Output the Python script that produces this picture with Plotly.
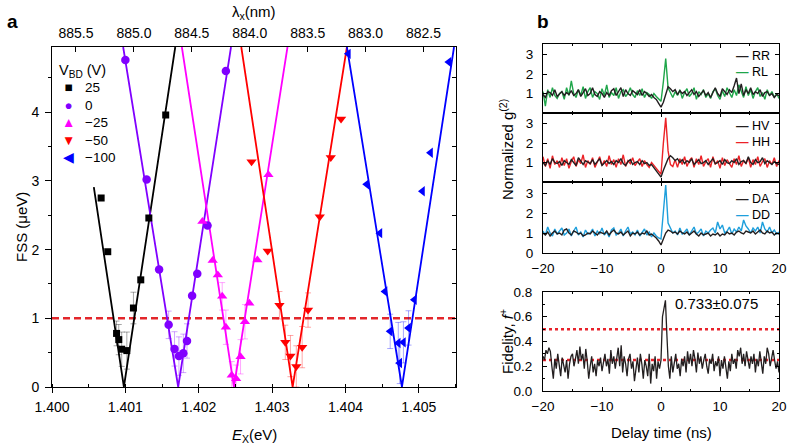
import numpy as np
import plotly.graph_objects as go

W, H = 788, 447
FONT = "Liberation Sans, Arial, Helvetica, sans-serif"

# ---------------- Panel a data ----------------
E_range = [1.400, 1.4055]
FSS_range = [0.0, 4.95]
E_ticks = [1.400, 1.401, 1.402, 1.403, 1.404, 1.405]
FSS_ticks = [0, 1, 2, 3, 4]
lam_ticks = [885.5, 885.0, 884.5, 884.0, 883.5, 883.0, 882.5]
lam_range = [885.707, 882.224]
FSS_threshold = 1.0

V_labels = ["25", "0", "−25", "−50", "−100"]
V_glyphs = ["■", "●", "▲", "▼", "◀"]

E_25 = [1.40067, 1.40076, 1.40088, 1.40091, 1.40095, 1.40102, 1.40111, 1.40121, 1.40132, 1.40155]
F_25 = [2.75, 1.97, 0.78, 0.69, 0.55, 0.53, 1.15, 1.56, 2.46, 3.96]
err_25 = [0, 0, 0.18, 0.22, 0.25, 0.27, 0.23, 0, 0, 0]
Efit_25 = [1.40057, 1.40098, 1.40168]
Ffit_25 = [2.91, 0.0, 4.95]

E_0 = [1.40100, 1.40129, 1.40146, 1.40159, 1.40167, 1.40173, 1.40179, 1.40184, 1.40191, 1.40198, 1.40212, 1.40237]
F_0 = [4.76, 3.02, 1.71, 0.905, 0.555, 0.45, 0.49, 0.67, 1.33, 1.65, 2.35, 4.60]
err_0 = [0, 0, 0, 0.2, 0.25, 0.28, 0.28, 0.25, 0, 0, 0, 0]
Efit_0 = [1.40097, 1.40172, 1.40244]
Ffit_0 = [4.95, 0.0, 4.95]

E_m25 = [1.40205, 1.40219, 1.40226, 1.40232, 1.40237, 1.40245, 1.40251, 1.40257, 1.40263, 1.40269, 1.40280, 1.40295]
F_m25 = [2.41, 1.84, 1.63, 1.32, 0.87, 0.17, 0.12, 0.44, 0.95, 1.22, 1.85, 3.09]
err_m25 = [0, 0, 0, 0.2, 0.25, 0.2, 0.2, 0.25, 0.25, 0, 0, 0]
Efit_m25 = [1.40177, 1.40248, 1.40321]
Ffit_m25 = [4.95, 0.0, 4.95]

E_m50 = [1.40272, 1.40294, 1.40310, 1.40318, 1.40325, 1.40333, 1.40341, 1.40349, 1.40365, 1.40380, 1.40394]
F_m50 = [3.28, 1.98, 1.19, 0.65, 0.45, 0.30, 0.58, 1.12, 2.48, 3.34, 3.90]
err_m50 = [0, 0, 0.2, 0.25, 0.3, 0.3, 0.3, 0.25, 0, 0, 0]
Efit_m50 = [1.40258, 1.40328, 1.40402]
Ffit_m50 = [4.95, 0.0, 4.95]

E_m100 = [1.40404, 1.40429, 1.40447, 1.40454, 1.40461, 1.40472, 1.40474, 1.40479, 1.40486, 1.40494, 1.40505, 1.40516, 1.40541]
F_m100 = [4.85, 2.95, 2.24, 1.39, 0.81, 0.64, 0.35, 0.65, 0.86, 1.27, 2.85, 3.41, 4.73]
err_m100 = [0, 0, 0, 0, 0.25, 0.3, 0.3, 0.3, 0.25, 0, 0, 0, 0]
Efit_m100 = [1.40402, 1.40477, 1.40548]
Ffit_m100 = [4.95, 0.0, 4.95]

# ---------------- Panel b data ----------------
t_range = [-20, 20]
t_ticks = [-20, -10, 0, 10, 20]
t_g2 = np.round(np.arange(-20, 20.0001, 0.4), 2)      # 101 delay bins
t_fid = np.round(np.arange(-20, 20.0001, 0.25), 2)    # 161 delay bins

g2_RR = [0.95,0.8,1.1,1.05,0.9,1.2,0.85,1.0,1.1,0.9,
         1.05,0.95,1.15,0.9,1.0,1.2,0.85,1.05,1.25,0.9,
         1.0,1.3,0.95,0.85,1.1,1.0,0.8,1.05,0.9,1.15,
         1.25,0.9,1.1,1.3,0.85,1.2,1.0,0.9,1.15,1.05,
         0.95,1.2,0.9,1.1,1.0,0.85,0.95,0.8,0.7,0.5,
         0.3,
         0.55,1.0,1.35,1.25,1.1,1.2,0.95,1.15,1.0,1.1,
         0.9,1.05,1.2,0.95,1.1,0.85,1.0,1.15,0.9,1.05,
         0.8,1.1,1.3,1.0,0.85,1.25,1.1,0.95,1.2,1.05,
         1.4,1.8,1.0,1.5,0.9,1.2,1.0,1.3,0.95,1.1,
         1.0,1.2,0.85,1.05,1.1,0.9,1.0,0.8,0.95,0.9]
g2_RL = [1.1,0.35,1.2,0.8,1.3,0.9,0.75,1.0,1.1,0.7,
         1.3,0.9,1.65,1.0,0.8,1.2,0.9,1.35,0.75,1.1,
         1.3,0.8,1.1,1.0,0.7,1.25,0.9,1.45,0.8,1.05,
         0.9,1.3,0.75,1.1,1.2,0.85,1.0,1.3,0.95,0.8,
         1.15,0.9,1.25,0.8,1.05,0.95,0.75,1.0,0.85,0.7,
         0.6,
         1.6,2.8,1.3,1.0,0.8,1.1,0.9,1.2,0.75,1.05,
         1.25,0.85,1.0,1.3,0.7,1.1,0.95,1.2,0.8,1.0,
         0.75,1.1,1.25,0.9,0.7,1.15,0.85,1.3,1.0,0.8,
         1.2,0.9,1.45,1.1,0.8,1.35,0.9,1.2,0.75,1.1,
         1.3,0.85,1.05,0.7,1.2,0.9,1.1,0.8,1.0,0.75]
g2_HV = [1.0,0.85,1.1,0.9,1.2,1.0,0.95,1.05,0.85,1.1,
         1.0,0.9,1.15,1.0,0.85,1.25,1.05,0.9,1.1,1.0,
         0.95,1.15,0.9,1.05,1.2,0.85,1.0,1.1,0.95,1.05,
         0.9,1.1,1.0,1.2,0.95,0.85,1.05,1.15,0.9,1.0,
         1.05,0.9,1.1,0.95,1.0,0.85,0.9,0.75,0.6,0.45,
         0.25,
         0.6,0.95,1.2,1.35,1.25,1.1,1.2,1.0,1.15,0.95,
         1.1,1.0,1.2,0.9,1.05,1.15,0.95,1.0,1.1,0.9,
         1.05,1.2,0.95,1.0,1.1,0.9,1.15,1.0,0.95,1.1,
         1.0,1.2,0.9,1.05,1.1,0.95,1.3,1.0,0.9,1.15,
         1.0,1.05,1.25,0.95,1.1,1.0,0.9,1.05,0.95,0.9]
g2_HH = [1.3,0.8,1.2,0.7,1.35,0.9,1.1,0.75,1.25,0.85,
         1.2,0.7,1.05,1.3,0.8,1.15,0.95,1.4,0.75,1.1,
         0.9,1.25,0.75,1.05,1.3,0.85,1.1,0.8,1.35,0.9,
         1.15,0.75,1.2,0.9,1.4,0.8,1.1,0.95,1.25,0.85,
         1.0,1.2,0.8,1.1,0.9,0.75,1.0,0.85,0.7,0.55,
         0.4,
         2.0,3.3,1.6,0.9,0.8,1.15,0.75,1.2,0.9,1.3,
         0.8,1.1,1.25,0.75,1.2,0.9,1.35,0.8,1.05,1.2,
         0.75,1.3,0.9,1.1,0.7,1.25,0.85,1.15,0.95,0.75,
         1.2,0.9,1.35,0.8,1.1,0.95,1.25,0.75,1.15,0.9,
         1.3,0.8,1.05,1.2,0.75,1.1,0.9,1.25,0.8,1.1]
g2_DA = [1.0,0.9,1.05,0.85,1.0,1.1,0.95,1.0,0.9,1.15,
         1.2,1.0,0.9,1.1,1.05,0.95,1.0,0.85,0.9,1.0,
         0.95,1.1,1.0,0.9,1.05,1.0,0.95,1.1,0.9,1.05,
         1.15,1.0,0.95,1.05,0.9,1.0,1.1,0.85,1.0,0.95,
         1.05,0.9,1.0,0.95,1.1,0.9,0.95,0.85,0.75,0.6,
         0.4,
         0.7,1.0,1.15,1.1,1.0,1.05,0.95,1.1,1.0,0.95,
         1.05,0.9,1.0,1.1,0.95,0.85,1.0,0.9,0.95,1.0,
         0.85,0.95,0.9,1.0,0.85,0.95,0.9,1.05,0.95,1.0,
         0.9,1.05,1.1,1.0,0.95,1.1,1.05,1.0,1.1,0.95,
         1.05,1.15,1.0,0.95,1.1,1.0,1.05,0.9,1.0,0.95]
g2_DD = [1.1,0.9,1.3,1.0,0.85,1.2,0.95,1.1,1.25,0.9,
         1.0,1.2,0.85,1.1,1.3,0.9,1.05,0.8,1.15,0.95,
         1.0,1.2,0.85,1.1,0.95,1.25,0.9,1.05,0.8,1.15,
         1.25,0.9,1.0,1.2,0.85,1.1,1.3,0.95,1.05,0.9,
         1.15,0.85,1.0,1.2,0.9,1.05,0.8,1.0,0.85,0.75,
         0.7,
         2.3,3.4,1.5,1.2,1.0,1.1,0.9,1.25,0.95,1.05,
         1.2,0.9,1.1,1.3,0.95,1.05,1.2,0.85,1.1,1.0,
         1.15,1.25,1.0,1.55,1.2,1.4,1.0,1.1,1.3,0.95,
         1.2,1.05,1.3,1.1,1.65,1.35,1.2,1.0,1.25,1.1,
         1.3,1.0,1.55,1.2,1.05,1.3,1.0,1.15,0.95,1.05]
fidelity = [0.28,0.25,0.33,0.3,0.35,0.32,0.2,0.1,0.26,0.18,
            0.3,0.22,0.12,0.27,0.2,0.15,0.25,0.1,0.22,0.28,
            0.3,0.2,0.26,0.33,0.22,0.36,0.25,0.3,0.18,0.34,
            0.24,0.1,0.2,0.28,0.15,0.22,0.12,0.25,0.2,0.27,
            0.16,0.24,0.3,0.2,0.26,0.14,0.33,0.22,0.28,0.18,
            0.25,0.35,0.2,0.37,0.15,0.28,0.22,0.12,0.26,0.3,
            0.18,0.24,0.08,0.2,0.27,0.15,0.3,0.22,0.1,0.25,
            0.2,0.12,0.3,0.06,0.22,0.16,0.28,0.1,0.24,0.18,
            0.25,0.6,0.68,0.733,0.45,0.2,0.1,0.28,0.15,0.24,
            0.3,0.18,0.22,0.12,0.26,0.2,0.28,0.15,0.32,0.22,
            0.3,0.2,0.33,0.26,0.15,0.31,0.22,0.28,0.18,0.25,
            0.3,0.2,0.14,0.26,0.22,0.3,0.16,0.24,0.2,0.28,
            0.12,0.25,0.18,0.28,0.2,0.1,0.24,0.16,0.3,0.22,
            0.26,0.18,0.33,0.28,0.35,0.22,0.3,0.2,0.32,0.25,
            0.18,0.28,0.22,0.3,0.15,0.26,0.2,0.32,0.24,0.14,
            0.28,0.22,0.35,0.3,0.2,0.26,0.33,0.25,0.18,0.24,0.15]
fid_classical = 0.5
fid_lower = 0.25
fid_label = "0.733±0.075"

# ---------------- helpers (window pixel -> paper fraction) ----------------
def px(x):
    return x / W

def py(y):
    return 1 - y / H

series_a = [
    (E_25, F_25, err_25, Efit_25, Ffit_25, "#000000", "rgba(0,0,0,0.35)", "square", 7),
    (E_0, F_0, err_0, Efit_0, Ffit_0, "#8000ff", "rgba(128,0,255,0.35)", "circle", 8.5),
    (E_m25, F_m25, err_m25, Efit_m25, Ffit_m25, "#ff00ff", "rgba(255,0,255,0.35)", "triangle-up", 9),
    (E_m50, F_m50, err_m50, Efit_m50, Ffit_m50, "#ff0000", "rgba(255,0,0,0.35)", "triangle-down", 9),
    (E_m100, F_m100, err_m100, Efit_m100, Ffit_m100, "#0000ff", "rgba(0,0,255,0.35)", "triangle-left", 9),
]

fig = go.Figure()

# threshold line
fig.add_trace(go.Scatter(x=E_range, y=[FSS_threshold, FSS_threshold], mode="lines",
                         line=dict(color="#e3262b", width=2.5, dash="7px,4px"),
                         showlegend=False, hoverinfo="skip", xaxis="x", yaxis="y"))

for (E, F, er, Ef, Ff, col, ecol, sym, sz) in series_a:
    fig.add_trace(go.Scatter(x=Ef, y=Ff, mode="lines", line=dict(color=col, width=1.8),
                             showlegend=False, hoverinfo="skip", xaxis="x", yaxis="y"))
    Ee = [e for e, r in zip(E, er) if r > 0]
    Fe = [f for f, r in zip(F, er) if r > 0]
    Re = [r for r in er if r > 0]
    fig.add_trace(go.Scatter(x=Ee, y=Fe, mode="markers", marker=dict(size=1, opacity=0),
                             error_y=dict(type="data", array=Re, color=ecol, thickness=1, width=3),
                             showlegend=False, hoverinfo="skip", xaxis="x", yaxis="y"))
for (E, F, er, Ef, Ff, col, ecol, sym, sz), lab in zip(series_a, V_labels):
    fig.add_trace(go.Scatter(x=E, y=F, mode="markers", name=lab, showlegend=False,
                             marker=dict(symbol=sym, size=sz, color=col, line=dict(width=0)),
                             xaxis="x", yaxis="y"))

# dummy traces to register overlay axes
fig.add_trace(go.Scatter(x=lam_ticks, y=[None] * len(lam_ticks), mode="markers",
                         showlegend=False, hoverinfo="skip", xaxis="x2", yaxis="y"))
fig.add_trace(go.Scatter(x=[None], y=[None], mode="markers",
                         showlegend=False, hoverinfo="skip", xaxis="x", yaxis="y2"))

# ---------------- Panel b traces ----------------
C_BLK = "#231f20"
sub_defs = [
    ("x3", "y3", g2_RR, g2_RL, "#1fa64a", "RR", "RL", 64),
    ("x4", "y4", g2_HV, g2_HH, "#ec2227", "HV", "HH", 134),
    ("x5", "y5", g2_DA, g2_DD, "#1e9fdc", "DA", "DD", 207),
]
for xa, ya, blk, colr, c, lb, lc, ly in sub_defs:
    fig.add_trace(go.Scatter(x=t_g2, y=colr, mode="lines", line=dict(color=c, width=1.4),
                             showlegend=False, hoverinfo="skip", xaxis=xa, yaxis=ya))
    fig.add_trace(go.Scatter(x=t_g2, y=blk, mode="lines", line=dict(color=C_BLK, width=1.4),
                             showlegend=False, hoverinfo="skip", xaxis=xa, yaxis=ya))

fig.add_trace(go.Scatter(x=t_range, y=[fid_classical] * 2, mode="lines",
                         line=dict(color="#e8212a", width=2.5, dash="dot"),
                         showlegend=False, hoverinfo="skip", xaxis="x6", yaxis="y6"))
fig.add_trace(go.Scatter(x=t_range, y=[fid_lower] * 2, mode="lines",
                         line=dict(color="#e8212a", width=2.5, dash="dot"),
                         showlegend=False, hoverinfo="skip", xaxis="x6", yaxis="y6"))
fig.add_trace(go.Scatter(x=t_fid, y=fidelity, mode="lines", line=dict(color=C_BLK, width=1.3),
                         showlegend=False, hoverinfo="skip", xaxis="x6", yaxis="y6"))

# ---------------- Layout ----------------
tickfont = dict(family=FONT, size=14, color="black")
tickfont_b = dict(family=FONT, size=13.5, color="black")
common = dict(showgrid=False, zeroline=False, showline=True, linecolor="black",
              linewidth=1, tickcolor="black", tickwidth=1, automargin=False)

xa_dom = [px(52), px(455.5)]
ya_dom = [py(387), py(47)]
xb_dom = [px(543), px(779)]

layout = dict(
    template="none",
    width=W, height=H, autosize=False,
    margin=dict(l=0, r=0, t=0, b=0, pad=0),
    paper_bgcolor="white", plot_bgcolor="rgba(0,0,0,0)",
    font=dict(family=FONT, size=14, color="black"),
    showlegend=False,
    xaxis=dict(domain=xa_dom, range=E_range, anchor="y", tickvals=E_ticks,
               ticktext=[f"{v:.3f}" for v in E_ticks], ticks="outside", ticklen=5,
               minor=dict(dtick=0.0005, tick0=1.4, ticks="inside", ticklen=3, tickcolor="black"),
               tickfont=tickfont, ticklabelstandoff=2, **common),
    yaxis=dict(domain=ya_dom, range=FSS_range, anchor="x", tickvals=FSS_ticks,
               ticks="outside", ticklen=6,
               minor=dict(dtick=0.5, tick0=0, ticks="outside", ticklen=3, tickcolor="black"),
               tickfont=tickfont, ticklabelstandoff=3, **common),
    xaxis2=dict(overlaying="x", side="top", anchor="y", range=lam_range, tickvals=lam_ticks,
                ticktext=[f"{v:.1f}" for v in lam_ticks], ticks="inside", ticklen=5,
                tickfont=tickfont, ticklabelstandoff=2, **common),
    yaxis2=dict(overlaying="y", side="right", anchor="x", range=FSS_range, tickvals=FSS_ticks,
                showticklabels=False, ticks="inside", ticklen=4,
                minor=dict(dtick=0.5, tick0=0, ticks="inside", ticklen=4, tickcolor="black"),
                **common),
)

def xb(anchor, labels):
    return dict(domain=xb_dom, range=t_range, anchor=anchor, tickvals=t_ticks,
                showticklabels=labels, ticks="inside", ticklen=4, mirror="ticks",
                ticklabeloverflow="allow",
                minor=dict(dtick=5, tick0=0, ticks="inside", ticklen=2, tickcolor="black"),
                tickfont=tickfont_b, ticklabelstandoff=3, **common)

def yb(anchor, dom, vals):
    return dict(domain=dom, range=[0, 3.55], anchor=anchor, tickvals=vals,
                ticks="inside", ticklen=4, mirror="ticks",
                tickfont=tickfont_b, ticklabelstandoff=6, **common)

layout["xaxis3"] = xb("y3", False)
layout["yaxis3"] = yb("x3", [py(113), py(44)], [1, 2, 3])
layout["xaxis4"] = xb("y4", False)
layout["yaxis4"] = yb("x4", [py(182), py(113)], [1, 2, 3])
layout["xaxis5"] = xb("y5", True)
layout["yaxis5"] = yb("x5", [py(253), py(182)], [0, 1, 2, 3])
layout["xaxis6"] = xb("y6", True)
layout["yaxis6"] = dict(domain=[py(391), py(292)], range=[0, 0.8], anchor="x6",
                        tickvals=[0, 0.2, 0.4, 0.6, 0.8],
                        ticktext=["0.0", "0.2", "0.4", "0.6", "0.8"],
                        ticks="inside", ticklen=4, mirror="ticks",
                        minor=dict(dtick=0.1, tick0=0, ticks="inside", ticklen=2, tickcolor="black"),
                        tickfont=tickfont_b, ticklabelstandoff=7, **common)

fig.update_layout(**layout)

# ---------------- Annotations ----------------
def ann(text, x, y, size=15, angle=0, xanchor="center", yanchor="middle", xref="paper",
        yref="paper", bold=False, align="center"):
    fig.add_annotation(text=f"<b>{text}</b>" if bold else text, x=x, y=y, xref=xref, yref=yref,
                       showarrow=False, textangle=angle, xanchor=xanchor, yanchor=yanchor,
                       align=align, font=dict(family=FONT, size=size, color="black"))

ann("a", px(12), py(34), size=19, bold=True, yanchor="bottom")
ann("b", px(543), py(34), size=19, bold=True, yanchor="bottom")
ann("λ<sub>x</sub>(nm)", px(254), py(13), size=15)
ann("FSS (μeV)", px(21), py(227), size=15, angle=-90)
ann("<i>E</i><sub>X</sub>(eV)", px(254), py(435), size=15)
ann("Normalized g<sup>(2)</sup>", px(507), py(150), size=15, angle=-90)
ann("Fidelity, <i>f</i><sup>+</sup>", px(506), py(342), size=15, angle=-90)
ann("Delay time (ns)", px(661), py(432), size=15)
ann(fid_label, 2.0, 0.71, size=15, xanchor="left", xref="x6", yref="y6")

# panel a key (V_BD)
ann("V<sub>BD</sub> (V)", px(57), py(71), size=14.5, xanchor="left")
glyph_text = "<br>".join(f"<span style='color:{s[5]}'>{g}</span>" for s, g in zip(series_a, V_glyphs))
ann(glyph_text, px(68), py(123), size=13.5, xanchor="center", align="center")
ann("<br>".join(V_labels), px(83), py(123), size=13.5, xanchor="left", align="left")

# panel b keys
for xa, ya, blk, colr, c, lb, lc, ly in sub_defs:
    txt = (f"<span style='color:{C_BLK}'><b>—</b></span> {lb}<br>"
           f"<span style='color:{c}'><b>—</b></span> {lc}")
    ann(txt, px(734), py(ly), size=12.5, xanchor="left", align="left")

# the page body has a default 8px margin; remove it so the figure sits at the window origin
fig.write_html("out.html", config={"displayModeBar": False},
               post_script="document.body.style.margin='0';document.body.style.overflow='hidden';")
